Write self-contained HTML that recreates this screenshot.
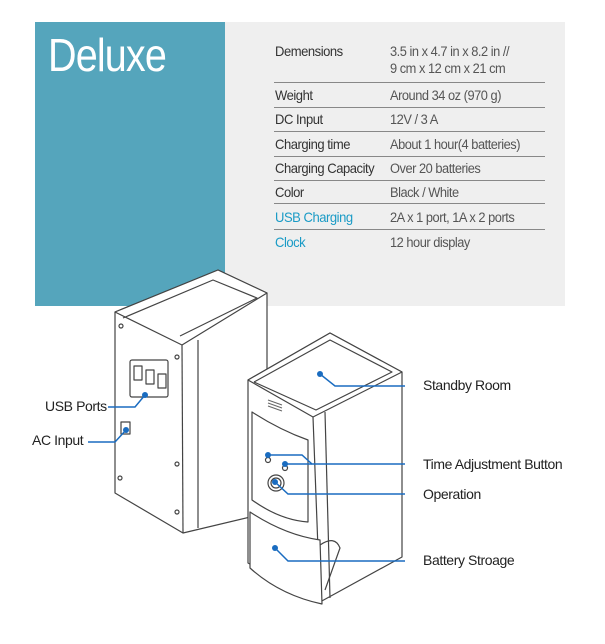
<!DOCTYPE html>
<html><head><meta charset="utf-8"><style>
html,body{margin:0;padding:0;background:#fff;width:605px;height:644px;overflow:hidden;position:relative;font-family:"Liberation Sans",sans-serif}
.teal{position:absolute;left:35px;top:22px;width:190px;height:284px;background:#55a5bc}
.gray{position:absolute;left:225px;top:22px;width:340px;height:284px;background:#efefef}
.title{position:absolute;left:48px;top:28px;color:#fff;font-size:46px;font-weight:normal;letter-spacing:-1px;transform:scaleX(0.86);transform-origin:left}
.r{position:absolute;left:275px;width:270px;font-size:14px;color:#333;letter-spacing:-0.5px}
.r .k{position:absolute;left:0;top:0;white-space:nowrap;transform:scaleX(0.93);transform-origin:left}
.r .v{position:absolute;left:115px;top:0;color:#555;white-space:nowrap;font-size:13.5px;line-height:17px;transform:scaleX(0.95);transform-origin:left}
.ln{position:absolute;left:274px;width:271px;height:1px;background:#888}
.blue{color:#1a9bc6 !important}
.lab{position:absolute;font-size:14px;color:#222;letter-spacing:-0.4px;white-space:nowrap}
svg{position:absolute;left:0;top:0}
</style></head><body>
<div class="teal"></div><div class="gray"></div>
<div class="title">Deluxe</div>
<div class="r" style="top:43px"><span class="k">Demensions</span><span class="v">3.5 in x 4.7 in x 8.2 in //<br>9 cm x 12 cm x 21 cm</span></div>
<div class="ln" style="top:82px"></div>
<div class="r" style="top:87px"><span class="k">Weight</span><span class="v">Around 34 oz (970 g)</span></div>
<div class="ln" style="top:107px"></div>
<div class="r" style="top:111px"><span class="k">DC Input</span><span class="v">12V / 3 A</span></div>
<div class="ln" style="top:131px"></div>
<div class="r" style="top:136px"><span class="k">Charging time</span><span class="v">About 1 hour(4 batteries)</span></div>
<div class="ln" style="top:156px"></div>
<div class="r" style="top:160px"><span class="k">Charging Capacity</span><span class="v">Over 20 batteries</span></div>
<div class="ln" style="top:180px"></div>
<div class="r" style="top:184px"><span class="k">Color</span><span class="v">Black / White</span></div>
<div class="ln" style="top:203px"></div>
<div class="r" style="top:209px"><span class="k blue">USB Charging</span><span class="v">2A x 1 port,  1A x 2 ports</span></div>
<div class="ln" style="top:229px"></div>
<div class="r" style="top:234px"><span class="k blue">Clock</span><span class="v">12 hour display</span></div>

<svg width="605" height="644" viewBox="0 0 605 644">
<g fill="#fff" stroke="#444" stroke-width="1.2" stroke-linejoin="round">
<polygon points="115,312 218,270 267,293 267,513 183,533 115,493"/>
<polygon points="115,312 218,270 267,293 182,345"/>
<polyline points="182,345 183,533" fill="none"/>
<polyline points="198,340 198,528" fill="none"/>
<polyline points="123,318 213,280 257,298 180,336" fill="none"/>
<rect x="130" y="360" width="38" height="37" rx="2"/>
<rect x="134" y="366" width="8" height="14"/><rect x="146" y="370" width="8" height="14"/><rect x="158" y="374" width="8" height="14"/>
<circle cx="121" cy="326" r="2"/><circle cx="177" cy="357" r="2"/><circle cx="177" cy="464" r="2"/><circle cx="120" cy="478" r="2"/><circle cx="177" cy="512" r="2"/>
<rect x="121" y="422" width="9" height="12"/>
<polygon points="248,380 330,333 402,372 402,557 320,602 248,563"/>
<polygon points="248,380 330,333 402,372 313,417"/>
<polyline points="254,382 330,340 392,372 316,410 254,382" fill="none"/>
<polyline points="313,417 320,602" fill="none"/>
<polyline points="325,412 330,598" fill="none"/>
<path d="M252,412 L252,500 Q280,520 308,522 L308,440 Q280,430 252,412Z"/>
<path d="M250,512 Q285,535 320,540 L322,604 Q280,595 250,568Z"/>
<circle cx="276" cy="483" r="8"/><circle cx="276" cy="483" r="5"/>
<circle cx="268" cy="460" r="2.5"/><circle cx="285" cy="468" r="2.5"/>
<path d="M320,545 Q335,535 340,548 L325,590" fill="none"/>
<g stroke="#666" stroke-width="1"><line x1="268" y1="400" x2="282" y2="405"/><line x1="268" y1="403" x2="282" y2="408"/><line x1="268" y1="406" x2="282" y2="411"/></g>
</g>
<g fill="none" stroke="#1a6cc0" stroke-width="1.5">
<polyline points="320,374 335,386 405,386"/>
<polyline points="268,455 302,455 312,464 405,464"/>
<line x1="285" y1="464" x2="312" y2="464"/>
<polyline points="275,482 288,494 405,494"/>
<polyline points="275,548 288,561 405,561"/>
<polyline points="145,395 135,407 108,407"/>
<polyline points="126,430 115,442 88,442"/>
</g>
<g fill="#1a6cc0">
<circle cx="320" cy="374" r="3"/><circle cx="268" cy="455" r="3"/><circle cx="285" cy="464" r="3"/><circle cx="275" cy="482" r="3"/><circle cx="275" cy="548" r="3"/><circle cx="145" cy="395" r="3"/><circle cx="126" cy="430" r="3"/>
</g>
</svg>
<div class="lab" style="left:423px;top:377px">Standby Room</div>
<div class="lab" style="left:423px;top:456px">Time Adjustment Button</div>
<div class="lab" style="left:423px;top:486px">Operation</div>
<div class="lab" style="left:423px;top:552px">Battery Stroage</div>
<div class="lab" style="left:45px;top:398px">USB Ports</div>
<div class="lab" style="left:32px;top:432px">AC Input</div>
</body></html>
